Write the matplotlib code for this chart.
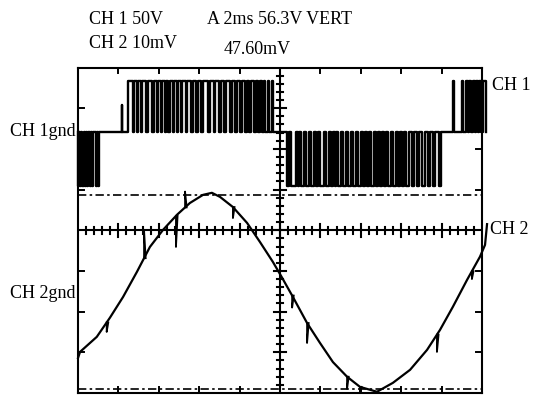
import numpy as np
import matplotlib
matplotlib.use("Agg")
from matplotlib import pyplot as plt

# time axis in ms (2 ms/div, 10 div), vertical in screen divisions
# CH 2 trace
ch2_t = [0.00, 0.10, 0.93, 1.58, 2.23, 2.92, 3.56, 4.21, 4.90, 5.54, 6.19, 6.63,
         7.03, 7.67, 8.37, 9.01, 9.65, 10.05, 10.64, 11.34, 11.98, 12.62, 13.32,
         13.96, 14.80, 15.59, 16.44, 17.28, 17.92, 18.56, 19.26, 19.90, 20.15, 20.25]
ch2_v = [-3.14, -2.99, -2.62, -2.15, -1.64, -1.02, -0.41, 0.01, 0.38, 0.67, 0.87, 0.92,
         0.82, 0.57, 0.18, -0.29, -0.78, -1.12, -1.64, -2.28, -2.77, -3.24, -3.60,
         -3.85, -3.97, -3.75, -3.43, -2.94, -2.45, -1.88, -1.22, -0.65, -0.36, 0.15]

# glitches on CH 2 (time, tip)
spike_t = [1.42, 3.27, 4.85, 5.30, 7.67, 10.60, 11.34, 13.32, 13.96, 17.77, 19.50]
spike_v = [-2.50, 0.00, -0.41, 0.95, 0.30, -1.90, -2.77, -3.90, -4.00, -2.99, -1.20]

# CH 1 PWM: levels (div)
ch1_gnd = 2.42
ch1_hi = 3.66
ch1_lo = 1.09

# negative pulses at the start
neg0_on = [0.00, 0.10, 0.22, 0.34, 0.45, 0.57, 0.71, 0.89, 1.01]
neg0_off = [0.05, 0.17, 0.29, 0.40, 0.50, 0.62, 0.74, 0.93, 1.05]

# first positive burst
pos1_on = [2.48, 2.77, 2.99, 3.19, 3.47, 3.74, 3.98, 4.18, 4.38, 4.55, 4.75, 4.95,
           5.17, 5.42, 5.67, 5.92, 6.19, 6.53, 6.78, 7.08, 7.33, 7.60, 7.85, 8.12,
           8.37, 8.56, 8.81, 9.03, 9.23, 9.41, 9.58]
pos1_off = [2.70, 2.92, 3.12, 3.39, 3.66, 3.91, 4.11, 4.31, 4.48, 4.68, 4.88, 5.10,
            5.35, 5.59, 5.84, 6.11, 6.44, 6.71, 7.00, 7.25, 7.52, 7.77, 8.04, 8.29,
            8.49, 8.71, 8.91, 9.11, 9.28, 9.45, 9.63]

# negative burst
neg1_on = [10.35, 10.54, 10.87, 11.04, 11.29, 11.53, 11.78, 12.00, 12.28, 12.52, 12.70,
           12.87, 13.12, 13.37, 13.61, 13.86, 14.11, 14.31, 14.50, 14.73, 14.95, 15.15,
           15.35, 15.59, 15.84, 16.04, 16.26, 16.51, 16.76, 17.03, 17.33, 17.57, 17.87]
neg1_off = [10.44, 10.77, 10.94, 11.19, 11.43, 11.68, 11.90, 12.18, 12.42, 12.60, 12.77,
            13.02, 13.27, 13.51, 13.76, 14.01, 14.21, 14.40, 14.63, 14.85, 15.05, 15.25,
            15.49, 15.74, 15.94, 16.14, 16.38, 16.63, 16.88, 17.20, 17.42, 17.67, 17.97]

# second positive burst
pos2_on = [18.54, 19.03, 19.23, 19.38, 19.53, 19.70, 19.87, 20.05]
pos2_off = [18.59, 19.08, 19.31, 19.45, 19.63, 19.80, 19.97, 20.20]

# lone spike before the first burst
glitch_t = 2.16
glitch_v = 3.08

# cursors
cursor_v = [0.87, -3.90]


def pwm_points(pulses, base, t_end):
    xs, ys = [0.0], [base]
    for on, off, lev in pulses:
        xs += [on, on, off, off]
        ys += [base, lev, lev, base]
    xs.append(t_end)
    ys.append(base)
    return xs, ys


pulses = [(a, b, ch1_lo) for a, b in zip(neg0_on, neg0_off)]
pulses.append((glitch_t, glitch_t + 0.01, glitch_v))
pulses += [(a, b, ch1_hi) for a, b in zip(pos1_on, pos1_off)]
pulses += [(a, b, ch1_lo) for a, b in zip(neg1_on, neg1_off)]
pulses += [(a, b, ch1_hi) for a, b in zip(pos2_on, pos2_off)]
ch1_x, ch1_y = pwm_points(pulses, ch1_gnd, 20.2)

W, H = 534, 396
fig = plt.figure(figsize=(W / 100, H / 100), dpi=100)
fig.patch.set_facecolor('white')
ax = fig.add_axes([78 / W, 3 / H, 404 / W, 325.5 / H])
ax.set_xlim(0, 20)
ax.set_ylim(-4, 4)
ax.set_xticks([])
ax.set_yticks([])
for s in ax.spines.values():
    s.set_linewidth(1.5)
    s.set_color('black')

# graticule: centre cross with minor marks, edge marks
ax.axhline(0, color='black', lw=1.5)
ax.axvline(10, color='black', lw=1.5)
for k in range(1, 50):
    x = k * 0.4
    h = 0.16 if k % 5 == 0 else 0.08
    ax.plot([x, x], [-h, h], color='black', lw=1.5)
for k in range(1, 40):
    y = -4 + k * 0.2
    w = 0.32 if k % 5 == 0 else 0.16
    ax.plot([10 - w, 10 + w], [y, y], color='black', lw=1.5)
for k in range(1, 10):
    x = k * 2
    ax.plot([x, x], [4, 3.86], color='black', lw=1.4)
    ax.plot([x, x], [-4, -3.86], color='black', lw=1.4)
for k in range(1, 8):
    y = -4 + k
    ax.plot([0, 0.28], [y, y], color='black', lw=1.4)
    ax.plot([20, 19.72], [y, y], color='black', lw=1.4)

# cursors
for c in cursor_v:
    ax.axhline(c, color='black', lw=1.2, linestyle=(0, (5, 2, 1.5, 2)))

# traces
ax.plot(ch1_x, ch1_y, color='black', lw=1.7, clip_on=False)
ax.plot(ch2_t, ch2_v, color='black', lw=1.6, clip_on=False)
for t, v in zip(spike_t, spike_v):
    base = np.interp(t, ch2_t, ch2_v)
    ax.plot([t, t, t + 0.08], [base, v, base], color='black', lw=1.3)

font = dict(family='Liberation Serif', fontsize=13, color='black')


def put(px, py, s, ha='left'):
    fig.text(px / W, 1 - py / H, s, ha=ha, va='center', **font)


put(89, 19, 'CH 1 50V')
put(89, 43, 'CH 2 10mV')
put(207, 19, 'A 2ms 56.3V VERT')
put(224, 50, '47.60mV')
put(531, 86, 'CH 1', ha='right')
put(490, 229, 'CH 2')
put(76, 132, 'CH 1gnd', ha='right')
put(76, 293, 'CH 2gnd', ha='right')

fig.savefig('out.png', dpi=100, facecolor='white')
